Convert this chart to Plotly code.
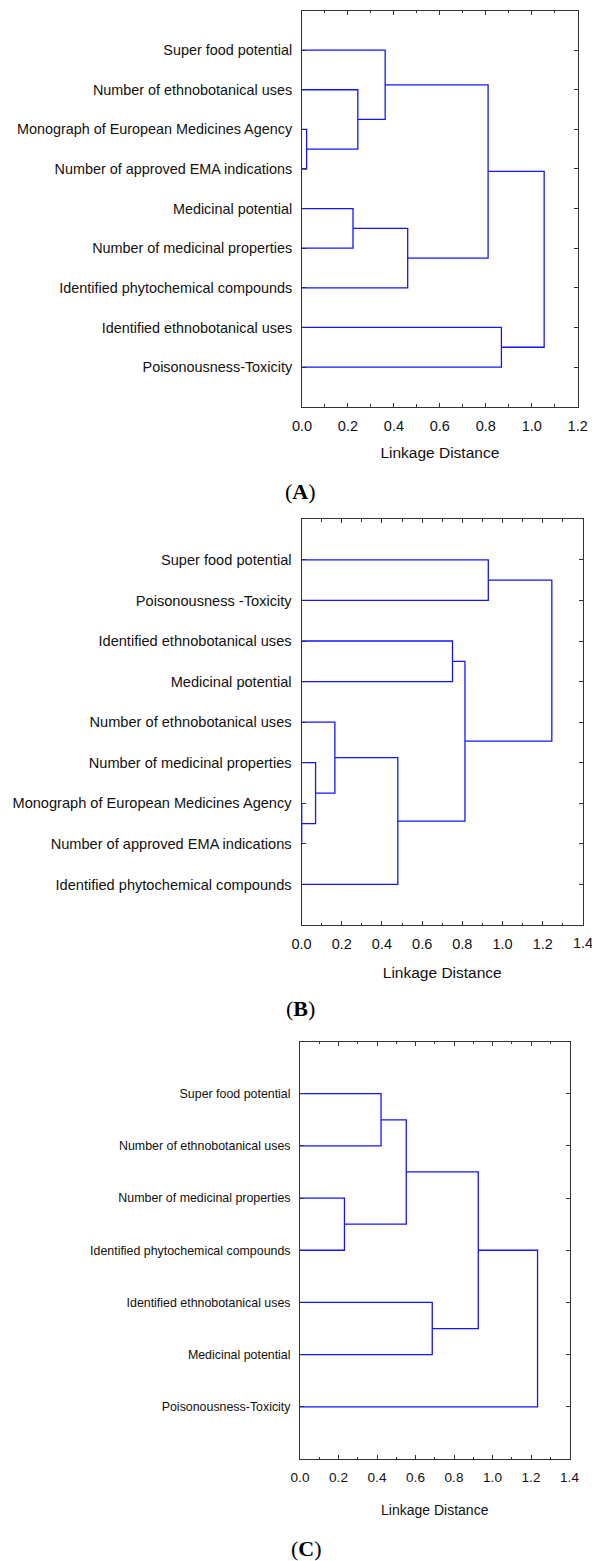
import plotly.graph_objects as go

W, H = 592, 1561

# ---------------- data ----------------
labels_a = ["Super food potential", "Number of ethnobotanical uses",
            "Monograph of European Medicines Agency", "Number of approved EMA indications",
            "Medicinal potential", "Number of medicinal properties",
            "Identified phytochemical compounds", "Identified ethnobotanical uses",
            "Poisonousness-Toxicity"]
# merges: new cluster id = n_leaves + merge index
merge_a_left = [2, 1, 0, 4, 12, 11, 7, 14]
merge_a_right = [3, 9, 10, 5, 6, 13, 8, 15]
merge_a_dist = [0.020, 0.243, 0.362, 0.222, 0.460, 0.810, 0.868, 1.054]

labels_b = ["Super food potential", "Poisonousness -Toxicity",
            "Identified ethnobotanical uses", "Medicinal potential",
            "Number of ethnobotanical uses", "Number of medicinal properties",
            "Monograph of European Medicines Agency", "Number of approved EMA indications",
            "Identified phytochemical compounds"]
merge_b_left = [6, 5, 4, 11, 2, 13, 0, 15]
merge_b_right = [7, 9, 10, 8, 3, 12, 1, 14]
merge_b_dist = [0.001, 0.070, 0.166, 0.479, 0.751, 0.813, 0.929, 1.245]

labels_c = ["Super food potential", "Number of ethnobotanical uses",
            "Number of medicinal properties", "Identified phytochemical compounds",
            "Identified ethnobotanical uses", "Medicinal potential",
            "Poisonousness-Toxicity"]
merge_c_left = [0, 2, 7, 4, 9, 11]
merge_c_right = [1, 3, 8, 5, 10, 6]
merge_c_dist = [0.421, 0.231, 0.552, 0.687, 0.926, 1.234]

panel_names = ["A", "B", "C"]
x_max = [1.2, 1.4, 1.4]
x_tickvals = [[0.0, 0.2, 0.4, 0.6, 0.8, 1.0, 1.2],
              [0.0, 0.2, 0.4, 0.6, 0.8, 1.0, 1.2, 1.4],
              [0.0, 0.2, 0.4, 0.6, 0.8, 1.0, 1.2, 1.4]]
axis_title = "Linkage Distance"

# ---------------- layout geometry (pixels) ----------------
boxes = [  # x0, x1, ytop, ybottom
    (302.0, 577.7, 10.5, 406.7),
    (301.5, 583.0, 519.3, 925.0),
    (300.0, 569.5, 1041.5, 1459.0),
]
label_pos = [(300, 491), (300, 1008), (306, 1548)]
label_size = [14.4, 14.6, 12.4]
tick_size = [14.5, 14.5, 13.6]
title_size = [15.5, 15.5, 14]
title_standoff = [14, 15, 20]

LINE = "#1414ff"
AX = "#333333"
SANS = "Liberation Sans, Arial, sans-serif"


def dendro_path(n, left, right, dist):
    ypos = {i: i + 1 for i in range(n)}
    xpos = {i: 0.0 for i in range(n)}
    xs, ys = [], []
    for k, (a, b, d) in enumerate(zip(left, right, dist)):
        ya, yb = ypos[a], ypos[b]
        xs += [xpos[a], d, d, xpos[b], None]
        ys += [ya, ya, yb, yb, None]
        ypos[n + k] = (ya + yb) / 2
        xpos[n + k] = d
    return xs, ys


fig = go.Figure()
data = [(labels_a, merge_a_left, merge_a_right, merge_a_dist),
        (labels_b, merge_b_left, merge_b_right, merge_b_dist),
        (labels_c, merge_c_left, merge_c_right, merge_c_dist)]

for i, (labs, l, r, d) in enumerate(data):
    n = len(labs)
    xs, ys = dendro_path(n, l, r, d)
    sfx = "" if i == 0 else str(i + 1)
    fig.add_trace(go.Scatter(x=xs, y=ys, mode="lines",
                             line=dict(color=LINE, width=1.3),
                             xaxis="x" + sfx, yaxis="y" + sfx,
                             hoverinfo="skip", showlegend=False))
    x0, x1, yt, yb = boxes[i]
    fig.layout["xaxis" + sfx] = dict(
        domain=[x0 / W, x1 / W], anchor="y" + sfx, automargin=False,
        range=[0, x_max[i]], tickvals=x_tickvals[i],
        tickformat=".1f", ticks="inside", ticklen=4, tickwidth=1,
        tickcolor=AX, showline=True, linecolor=AX, linewidth=1,
        mirror="allticks", showgrid=False, zeroline=False,
        minor=dict(ticks="inside", dtick=0.1, ticklen=2.5, tickcolor=AX, showgrid=False),
        tickfont=dict(family=SANS, size=tick_size[i], color="#111111"),
        ticklabelstandoff=6,
        title=dict(text=axis_title, standoff=title_standoff[i],
                   font=dict(family=SANS, size=title_size[i], color="#111111")),
    )
    fig.layout["yaxis" + sfx] = dict(
        domain=[1 - yb / H, 1 - yt / H], anchor="x" + sfx, automargin=False,
        range=[n + 1, 0], tickvals=list(range(1, n + 1)), ticktext=labs,
        ticks="inside", ticklen=4, tickwidth=1, tickcolor=AX,
        showline=True, linecolor=AX, linewidth=1, mirror="allticks",
        showgrid=False, zeroline=False, ticklabelstandoff=6,
        tickfont=dict(family=SANS, size=label_size[i], color="#111111"),
    )
    lx, ly = label_pos[i]
    fig.add_annotation(text="(<b>%s</b>)" % panel_names[i], x=lx / W, y=1 - ly / H,
                       xref="paper", yref="paper", showarrow=False,
                       xanchor="center", yanchor="middle",
                       font=dict(family="Liberation Serif, Times New Roman, serif",
                                 size=22, color="#000000"))

# the last tick label of panel B runs past the page edge (cut off, as in the original);
# plotly drops such labels, so it is placed on the axis scale as an annotation
fig.add_annotation(text="%.1f" % x_tickvals[1][-1], x=x_tickvals[1][-1], xref="x2",
                   y=1 - 943.3 / H, yref="paper", showarrow=False,
                   xanchor="center", yanchor="middle",
                   font=dict(family=SANS, size=tick_size[1], color="#111111"))

fig.update_layout(width=W, height=H, margin=dict(l=0, r=0, t=0, b=0, autoexpand=False),
                  paper_bgcolor="white", plot_bgcolor="white", showlegend=False)

fig.write_html("out.html", config={"displayModeBar": False, "responsive": False},
               post_script="document.body.style.margin='0';document.body.style.padding='0';"
                           "document.documentElement.style.overflow='hidden';")
